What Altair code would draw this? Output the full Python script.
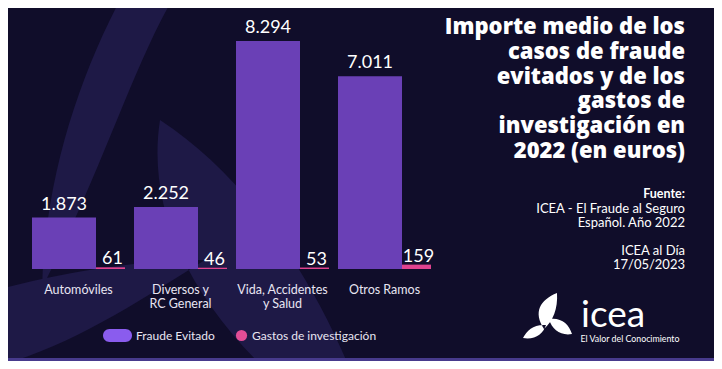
import altair as alt
import pandas as pd

categories = ["Automóviles", "Diversos y RC General", "Vida, Accidentes y Salud", "Otros Ramos"]
cat_labels = ["Automóviles", "Diversos y\nRC General", "Vida, Accidentes\ny Salud", "Otros Ramos"]
fraude_evitado = [1873, 2252, 8294, 7011]
gastos_investigacion = [61, 46, 53, 159]
series = ["Fraude Evitado", "Gastos de investigación"]

title_text = "Importe medio de los\ncasos de fraude\nevitados y de los\ngastos de\ninvestigación en\n2022 (en euros)"
source_head = "Fuente:"
source_text = "ICEA - El Fraude al Seguro\nEspañol. Año 2022"
date_text = "ICEA al Día\n17/05/2023"
logo_word = "icea"
logo_tag = "El Valor del Conocimiento"

BG = "#100d2a"
LEAF = "#1e1946"
PURPLE = "#6a40b6"
PINK = "#e0438f"
PURPLE_LEG = "#8a5cee"
PINK_LEG = "#e24d96"
FONT = "Lato"

df = pd.DataFrame({
    "cat": categories,
    "label": cat_labels,
    "fraude": fraude_evitado,
    "gastos": gastos_investigacion,
})

xcat = alt.X("cat:N", sort=categories, axis=None,
             scale=alt.Scale(paddingInner=0, paddingOuter=0))
yscale = alt.Scale(domain=[0, max(fraude_evitado)], nice=False, zero=True)

base = alt.Chart(df)

# decorative background leaves (page coordinates, origin shifted)
leaf_path = (
    "M42,288 C45,180 78,80 120,0 L172,0 C132,70 102,170 42,288 Z "
    "M160,120 C146,210 190,310 300,400 L362,400 C322,290 252,180 160,120 Z "
    "M-10,292 C60,272 140,260 205,260 C140,300 70,348 -10,368 Z"
)
logo_path = (
    "M544,329 C533,312 540,300 557,293 C558,309 553,321 544,329 Z "
    "M546,325 C534,324 527,330 523,338 C535,340 543,334 546,325 Z "
    "M549,319 C561,317 569,324 572,334 C561,336 552,330 549,319 Z"
)
deco_df = pd.DataFrame({"k": [0]})
leaves = alt.Chart(deco_df).mark_point(
    shape=leaf_path, size=4, filled=True, color=LEAF, opacity=1, strokeWidth=0
).encode(x=alt.value(-27.5), y=alt.value(-41))
logo = alt.Chart(deco_df).mark_point(
    shape=logo_path, size=4, filled=True, color="#ffffff", opacity=1, strokeWidth=0
).encode(x=alt.value(-27.5), y=alt.value(-41))

bars_f = base.mark_bar(width=64, xOffset=-14.5, color=PURPLE).encode(
    x=xcat, y=alt.Y("fraude:Q", scale=yscale, axis=None))
bars_g = base.mark_bar(width=29, xOffset=32, color=PINK).encode(
    x=xcat, y=alt.Y("gastos:Q", scale=yscale, axis=None))

fmt = "replace(format(datum.{f}, ','), ',', '.')"
txt_f = base.transform_calculate(t=fmt.format(f="fraude")).mark_text(
    xOffset=-14.5, dy=-8, baseline="alphabetic", font=FONT, fontSize=18, color="white"
).encode(x=xcat, y=alt.Y("fraude:Q", scale=yscale), text="t:N")
txt_g = base.transform_calculate(t=fmt.format(f="gastos")).mark_text(
    xOffset=34, dy=-3, baseline="alphabetic", font=FONT, fontSize=18, color="white"
).encode(x=xcat, y=alt.Y("gastos:Q", scale=yscale), text="t:N")

cat_txt = base.mark_text(
    baseline="alphabetic", font=FONT, fontSize=12.5, color="#e8e5f2",
    lineBreak="\n", lineHeight=14.5
).encode(x=xcat, y=alt.value(252.5), text="label:N")

# legend
leg_df = pd.DataFrame({"s": series})
leg_rect = alt.Chart(leg_df.iloc[[0]]).mark_rect(
    color=PURPLE_LEG, cornerRadius=6.5
).encode(x=alt.value(75.5), x2=alt.value(104.5), y=alt.value(288), y2=alt.value(301))
leg_circ = alt.Chart(leg_df.iloc[[1]]).mark_point(
    shape="circle", size=125, filled=True, color=PINK_LEG, opacity=1
).encode(x=alt.value(214), y=alt.value(294.5))
leg_t1 = alt.Chart(leg_df.iloc[[0]]).mark_text(
    align="left", baseline="alphabetic", font=FONT, fontSize=12, color="#e8e5f2"
).encode(x=alt.value(108.5), y=alt.value(298.5), text="s:N")
leg_t2 = alt.Chart(leg_df.iloc[[1]]).mark_text(
    align="left", baseline="alphabetic", font=FONT, fontSize=12, color="#e8e5f2"
).encode(x=alt.value(224.5), y=alt.value(298.5), text="s:N")

# right side texts
one = pd.DataFrame({"t": [title_text]})
title = alt.Chart(one).mark_text(
    align="right", baseline="alphabetic", font="Open Sans", fontWeight=800, fontSize=22,
    color="white", lineBreak="\n", lineHeight=24.8
).encode(x=alt.value(657.5), y=alt.value(-7), text="t:N")
src_h = alt.Chart(pd.DataFrame({"t": [source_head]})).mark_text(
    align="right", baseline="alphabetic", font=FONT, fontWeight="bold", fontSize=12.5,
    color="white"
).encode(x=alt.value(657.5), y=alt.value(157), text="t:N")
src = alt.Chart(pd.DataFrame({"t": [source_text]})).mark_text(
    align="right", baseline="alphabetic", font=FONT, fontSize=13,
    color="white", lineBreak="\n", lineHeight=14.3
).encode(x=alt.value(657.5), y=alt.value(171.5), text="t:N")
date = alt.Chart(pd.DataFrame({"t": [date_text]})).mark_text(
    align="right", baseline="alphabetic", font=FONT, fontSize=13,
    color="white", lineBreak="\n", lineHeight=14.3
).encode(x=alt.value(657.5), y=alt.value(214), text="t:N")
logo_w = alt.Chart(pd.DataFrame({"t": [logo_word]})).mark_text(
    align="left", baseline="alphabetic", font=FONT, fontSize=37, color="white"
).encode(x=alt.value(553.5), y=alt.value(286), text="t:N")
logo_t = alt.Chart(pd.DataFrame({"t": [logo_tag]})).mark_text(
    align="left", baseline="alphabetic", font=FONT, fontSize=8.8, color="white"
).encode(x=alt.value(553), y=alt.value(300.5), text="t:N")

bottom_line = alt.Chart(deco_df).mark_rect(color="#473a8c").encode(
    x=alt.value(-19.5), x2=alt.value(686.5), y=alt.value(317), y2=alt.value(320))

chart = alt.layer(
    leaves, bars_f, bars_g, txt_f, txt_g, cat_txt,
    leg_rect, leg_circ, leg_t1, leg_t2,
    title, src_h, src, date, logo, logo_w, logo_t, bottom_line
).properties(
    width=408, height=228,
    autosize=alt.AutoSizeParams(type="none"),
    padding={"left": 19.5, "top": 33, "right": 278.5, "bottom": 92},
    background=BG,
).configure_view(stroke=None)

chart.save("out.html", embed_options={"renderer": "svg", "actions": False})
